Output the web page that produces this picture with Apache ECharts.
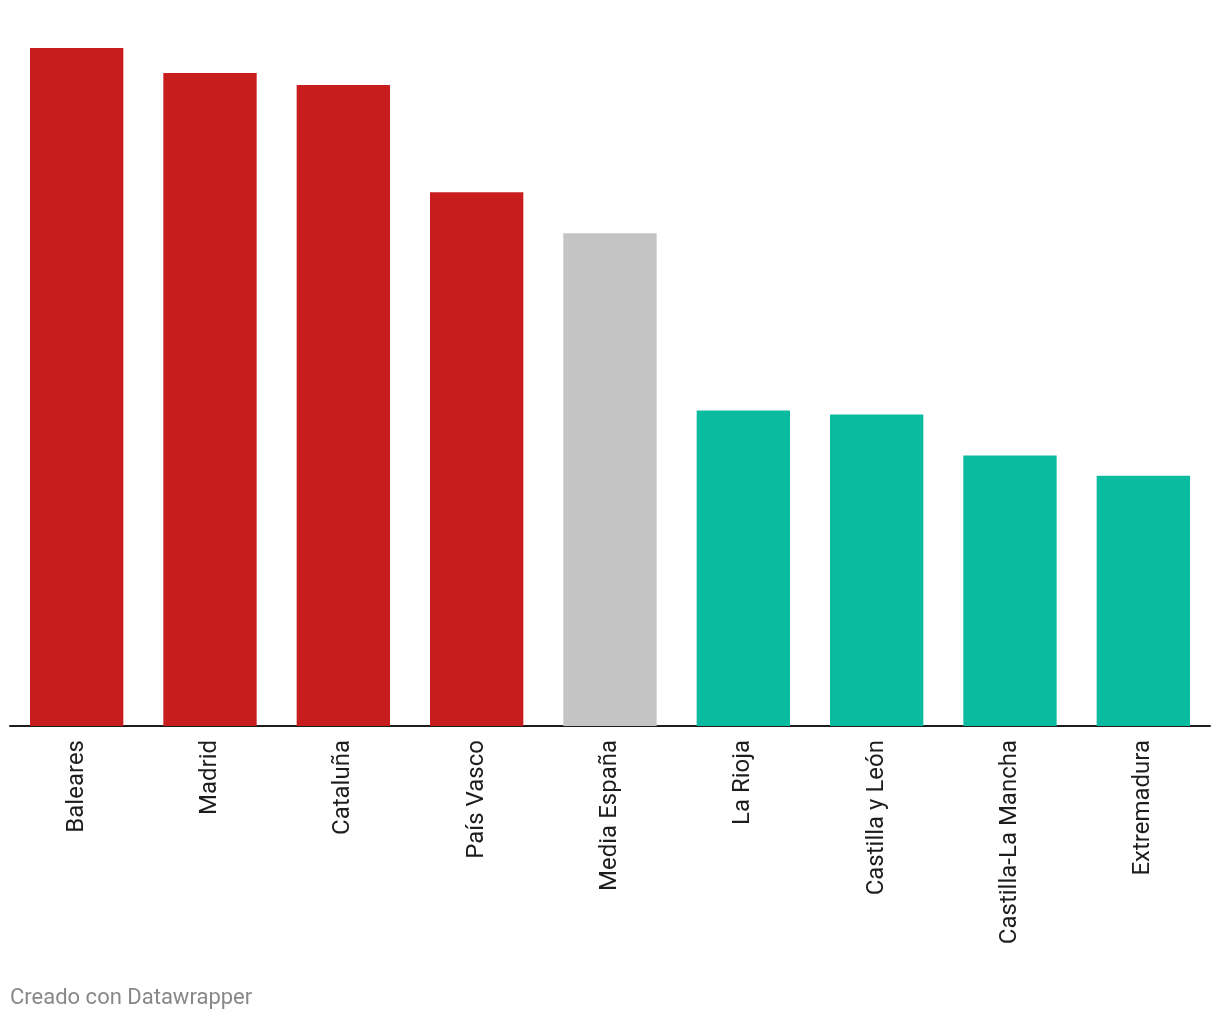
<!DOCTYPE html>
<html><head><meta charset="utf-8">
<script src="https://cdn.jsdelivr.net/npm/echarts@6/dist/echarts.min.js"></script>
<style>html,body{margin:0;padding:0;background:#fff}#c{width:1220px;height:1020px}</style>
</head><body><div id="c"></div>
<script>
const categories = ["Baleares","Madrid","Cataluña","País Vasco","Media España","La Rioja","Castilla y León","Castilla-La Mancha","Extremadura"];
const values = [677,652,640,533,492,315,311,270,250];
const colors = ["#c71e1d","#c71e1d","#c71e1d","#c71e1d","#c4c4c4","#0bbba0","#0bbba0","#0bbba0","#0bbba0"];
const chart = echarts.init(document.getElementById('c'));
chart.setOption({
  animation:false,
  grid:{left:10,right:10,top:48,bottom:294,containLabel:false},
  xAxis:{type:'category',data:categories,
    axisLine:{lineStyle:{color:'#1d1d1d',width:2}},
    axisTick:{show:false},
    axisLabel:{rotate:90,fontFamily:'Roboto',fontSize:24,color:'#1d1d1d',margin:14,padding:[0,0,0,0]}},
  yAxis:{type:'value',min:0,max:677,show:false,splitLine:{show:false}},
  series:[{type:'bar',barCategoryGap:'30%',
    data:values.map((v,i)=>({value:v,itemStyle:{color:colors[i]}}))}],
  graphic:[{type:'text',left:10,top:987,style:{text:'Creado con Datawrapper',fontFamily:'Roboto',fontSize:22,fill:'#888'}}]
});
</script></body></html>
